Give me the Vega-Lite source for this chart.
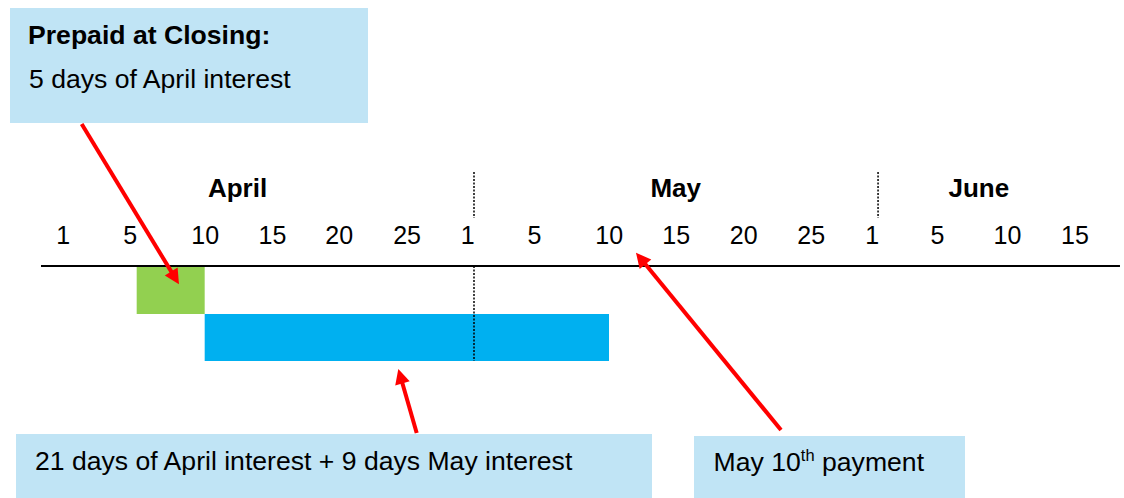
{
  "$schema": "https://vega.github.io/schema/vega-lite/v6.json",
  "width": 1124,
  "height": 498,
  "padding": 0,
  "autosize": {"type": "fit", "contains": "padding"},
  "background": "white",
  "config": {"view": {"stroke": null}, "text": {"font": "Liberation Sans"}},
  "datasets": {
    "boxes": [
      {"kind": "callout", "x": -2.941, "x2": 23.578, "y": -5.489, "y2": -3.043},
      {"kind": "callout", "x": -2.496, "x2": 44.615, "y": 3.574, "y2": 4.936},
      {"kind": "callout", "x": 47.726, "x2": 67.8, "y": 3.617, "y2": 4.936},
      {"kind": "green", "x": 6.444, "x2": 11.481, "y": 0, "y2": 1.02},
      {"kind": "blue", "x": 11.481, "x2": 41.43, "y": 1.02, "y2": 2.02}
    ],
    "dividers": [
      {"x": 31.43, "y": -2.0, "y2": -1.021},
      {"x": 31.43, "y": 0, "y2": 2.02},
      {"x": 61.36, "y": -2.0, "y2": -1.021}
    ],
    "timeline": [{"x": -0.644, "x2": 79.28, "y": 0}],
    "labels": [
      {"kind": "day", "text": "1", "x": 1.0, "y": -0.479},
      {"kind": "day", "text": "5", "x": 5.97, "y": -0.479},
      {"kind": "day", "text": "10", "x": 11.52, "y": -0.479},
      {"kind": "day", "text": "15", "x": 16.5, "y": -0.479},
      {"kind": "day", "text": "20", "x": 21.44, "y": -0.479},
      {"kind": "day", "text": "25", "x": 26.47, "y": -0.479},
      {"kind": "day", "text": "1", "x": 30.96, "y": -0.479},
      {"kind": "day", "text": "5", "x": 35.91, "y": -0.479},
      {"kind": "day", "text": "10", "x": 41.44, "y": -0.479},
      {"kind": "day", "text": "15", "x": 46.41, "y": -0.479},
      {"kind": "day", "text": "20", "x": 51.41, "y": -0.479},
      {"kind": "day", "text": "25", "x": 56.41, "y": -0.479},
      {"kind": "day", "text": "1", "x": 60.93, "y": -0.479},
      {"kind": "day", "text": "5", "x": 65.76, "y": -0.479},
      {"kind": "day", "text": "10", "x": 70.95, "y": -0.479},
      {"kind": "day", "text": "15", "x": 75.95, "y": -0.479},
      {"kind": "month", "text": "April", "x": 13.911, "y": -1.468},
      {"kind": "month", "text": "May", "x": 46.37, "y": -1.468},
      {"kind": "month", "text": "June", "x": 68.82, "y": -1.468}
    ],
    "notes": [
      {"kind": "title", "text": "Prepaid at Closing:", "x": -1.607, "y": -4.717},
      {"kind": "body", "text": "5 days of April interest", "x": -1.533, "y": -3.781},
      {"kind": "body", "text": "21 days of April interest + 9 days May interest", "x": -1.089, "y": 4.34},
      {"kind": "body", "text": "May 10", "x": 49.178, "y": 4.36},
      {"kind": "sup", "text": "th", "x": 55.64, "y": 4.15},
      {"kind": "body", "text": "payment", "x": 57.21, "y": 4.36}
    ],
    "arrows": [
      {"id": 1, "x": 2.37, "y": -3.021, "x2": 9.289, "y2": 0.253},
      {"id": 2, "x": 27.185, "y": 3.553, "x2": 25.978, "y2": 2.345},
      {"id": 3, "x": 54.17, "y": 3.489, "x2": 43.78, "y2": -0.16}
    ],
    "heads": [
      {"id": 1, "x": 9.289, "y": 0.253},
      {"id": 2, "x": 25.978, "y": 2.345},
      {"id": 3, "x": 43.78, "y": -0.16}
    ]
  },
  "encoding": {
    "x": {"field": "x", "type": "quantitative", "axis": null,
          "scale": {"domain": [-3.681, 79.578], "nice": false, "zero": false}},
    "y": {"field": "y", "type": "quantitative", "axis": null,
          "scale": {"domain": [-5.66, 4.936], "nice": false, "zero": false, "reverse": true}}
  },
  "layer": [
    {
      "data": {"name": "boxes"},
      "mark": {"type": "rect"},
      "encoding": {
        "x2": {"field": "x2"},
        "y2": {"field": "y2"},
        "color": {"field": "kind", "type": "nominal", "legend": null,
                  "scale": {"domain": ["callout", "green", "blue"], "range": ["#C0E4F5", "#92D050", "#00B0F0"]}}
      }
    },
    {
      "data": {"name": "dividers"},
      "mark": {"type": "rule", "color": "#000000", "strokeWidth": 1.5, "strokeDash": [2, 1.5]},
      "encoding": {"y2": {"field": "y2"}}
    },
    {
      "data": {"name": "timeline"},
      "mark": {"type": "rule", "color": "#000000", "strokeWidth": 2},
      "encoding": {"x2": {"field": "x2"}}
    },
    {
      "data": {"name": "labels"},
      "transform": [{"filter": "datum.kind === 'day'"}],
      "mark": {"type": "text", "align": "center", "baseline": "alphabetic", "fontSize": 25, "color": "#000000"},
      "encoding": {"text": {"field": "text"}}
    },
    {
      "data": {"name": "labels"},
      "transform": [{"filter": "datum.kind === 'month'"}],
      "mark": {"type": "text", "align": "center", "baseline": "alphabetic", "fontSize": 26, "fontWeight": "bold", "color": "#000000"},
      "encoding": {"text": {"field": "text"}}
    },
    {
      "data": {"name": "notes"},
      "transform": [{"filter": "datum.kind === 'title'"}],
      "mark": {"type": "text", "align": "left", "baseline": "alphabetic", "fontSize": 26.6, "fontWeight": "bold", "color": "#000000"},
      "encoding": {"text": {"field": "text"}}
    },
    {
      "data": {"name": "notes"},
      "transform": [{"filter": "datum.kind === 'body'"}],
      "mark": {"type": "text", "align": "left", "baseline": "alphabetic", "fontSize": 26.6, "color": "#000000"},
      "encoding": {"text": {"field": "text"}}
    },
    {
      "data": {"name": "notes"},
      "transform": [{"filter": "datum.kind === 'sup'"}],
      "mark": {"type": "text", "align": "left", "baseline": "alphabetic", "fontSize": 16.5, "color": "#000000"},
      "encoding": {"text": {"field": "text"}}
    },
    {
      "data": {"name": "arrows"},
      "mark": {"type": "rule", "color": "#FF0000", "strokeWidth": 4},
      "encoding": {"x2": {"field": "x2"}, "y2": {"field": "y2"}}
    },
    {
      "data": {"name": "heads"},
      "transform": [{"filter": "datum.id === 1"}],
      "mark": {"type": "point", "shape": "M0,-1L-1,1L1,1Z", "filled": true, "color": "#FF0000", "opacity": 1, "size": 225, "angle": 148.7},
      "encoding": {}
    },
    {
      "data": {"name": "heads"},
      "transform": [{"filter": "datum.id === 2"}],
      "mark": {"type": "point", "shape": "M0,-1L-1,1L1,1Z", "filled": true, "color": "#FF0000", "opacity": 1, "size": 225, "angle": 344},
      "encoding": {}
    },
    {
      "data": {"name": "heads"},
      "transform": [{"filter": "datum.id === 3"}],
      "mark": {"type": "point", "shape": "M0,-1L-1,1L1,1Z", "filled": true, "color": "#FF0000", "opacity": 1, "size": 225, "angle": 320.7},
      "encoding": {}
    }
  ]
}
